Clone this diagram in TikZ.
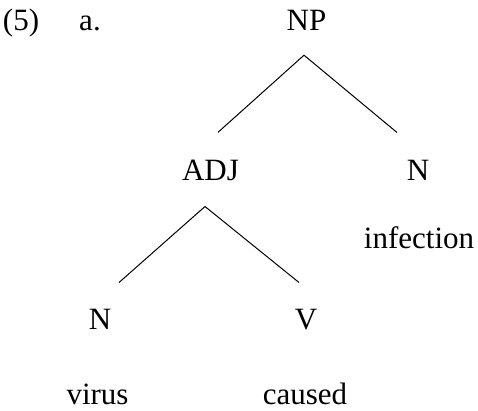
\documentclass[tikz,border=0pt]{standalone}
\usepackage{fontspec}
\setmainfont{Liberation Serif}
\begin{document}
\begin{tikzpicture}[x=1pt,y=1pt,
  lbl/.style={anchor=base,inner sep=0pt,font=\fontsize{31}{36}\selectfont},
  branch/.style={line width=1pt}]
\useasboundingbox (0,0) rectangle (478,-410);
% example number and sub-label
\node[lbl] (num) at (21,-30) {(5)};
\node[lbl] (sub) at (90,-30) {a.};
% tree labels
\node[lbl] (np) at (306.5,-30) {NP};
\node[lbl] (adj) at (210.5,-180) {ADJ};
\node[lbl] (n2) at (418,-180) {N};
\node[lbl] (infection) at (419,-248) {infection};
\node[lbl] (n1) at (100,-329) {N};
\node[lbl] (v) at (306,-329) {V};
\node[lbl] (virus) at (97.5,-404) {virus};
\node[lbl] (caused) at (305,-404) {caused};
% branches
\draw[branch] ([shift={(7.5,27)}]adj.north) -- ([shift={(-2.5,-25)}]np.south)
  -- ([shift={(-21,27)}]n2.north);
\draw[branch] ([shift={(19,26)}]n1.north) -- ([shift={(-5.5,-26)}]adj.south)
  -- ([shift={(-7,26)}]v.north);
\end{tikzpicture}
\end{document}
